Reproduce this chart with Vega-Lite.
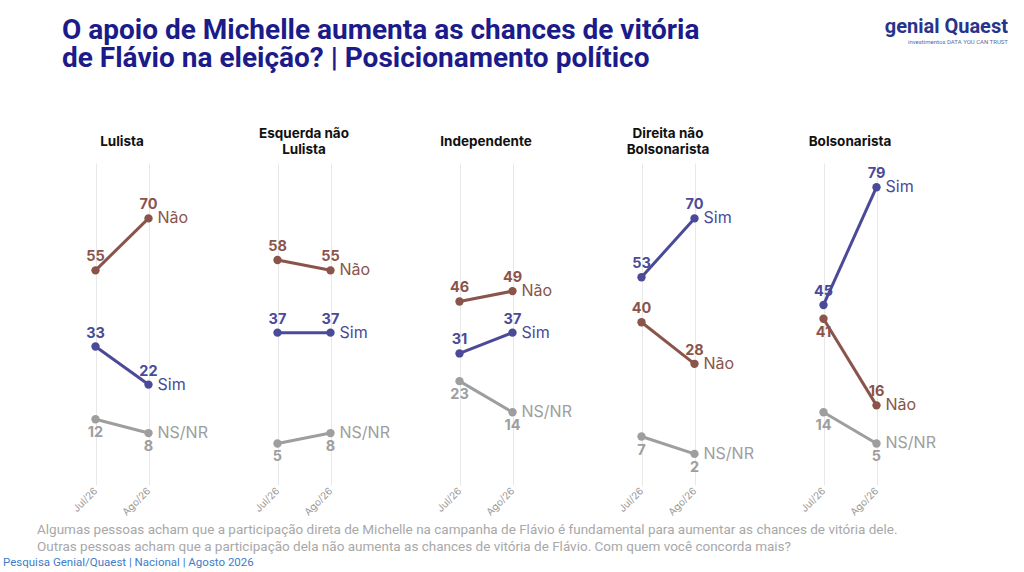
{
  "$schema": "https://vega.github.io/schema/vega-lite/v6.json",
  "background": "white",
  "padding": {"left": 3, "top": 16, "right": 2, "bottom": 2},
  "title": {
    "text": ["O apoio de Michelle aumenta as chances de vitória", "de Flávio na eleição? | Posicionamento político"],
    "anchor": "start",
    "frame": "bounds",
    "font": "Roboto",
    "fontSize": 28,
    "fontWeight": "bold",
    "color": "#1b1b8a",
    "lineHeight": 28,
    "offset": -56,
    "dx": 59
  },
  "config": {
    "view": {"stroke": null},
    "font": "Inter"
  },
  "vconcat": [
    {
      "title": {
        "text": "Pesquisa Genial/Quaest | Nacional | Agosto 2026",
        "orient": "bottom",
        "anchor": "start",
        "frame": "bounds",
        "font": "Roboto",
        "fontSize": 11.5,
        "fontWeight": "normal",
        "color": "#3d7cc9",
        "offset": 3,
        "dx": -34
      },
      "vconcat": [
        {
          "title": {
            "text": "genial  Quaest",
            "subtitle": "investimentos    DATA YOU CAN TRUST",
            "orient": "top",
            "anchor": "end",
            "frame": "bounds",
            "font": "Roboto",
            "fontSize": 20,
            "fontWeight": "bold",
            "color": "#27348b",
            "subtitleFont": "Roboto",
            "subtitleFontSize": 6,
            "subtitleColor": "#5a6aa8",
            "subtitlePadding": 2,
            "offset": 82,
            "dx": 72
          },
          "vconcat": [
            {
              "title": {
                "text": ["Algumas pessoas acham que a participação direta de Michelle na campanha de Flávio é fundamental para aumentar as chances de vitória dele.", "Outras pessoas acham que a participação dela não aumenta as chances de vitória de Flávio. Com quem você concorda mais?"],
                "orient": "bottom",
                "anchor": "start",
                "frame": "bounds",
                "font": "Roboto",
                "fontSize": 13.5,
                "fontWeight": "normal",
                "color": "#a8a8a8",
                "lineHeight": 17,
                "offset": 6,
                "dx": -32
              },
              "data": {
                "values": [
                  {"grupo": "Lulista", "serie": "Não", "periodo": "Jul/26", "valor": 55},
                  {"grupo": "Lulista", "serie": "Não", "periodo": "Ago/26", "valor": 70},
                  {"grupo": "Lulista", "serie": "Sim", "periodo": "Jul/26", "valor": 33},
                  {"grupo": "Lulista", "serie": "Sim", "periodo": "Ago/26", "valor": 22},
                  {"grupo": "Lulista", "serie": "NS/NR", "periodo": "Jul/26", "valor": 12},
                  {"grupo": "Lulista", "serie": "NS/NR", "periodo": "Ago/26", "valor": 8},
                  {"grupo": "Esquerda não Lulista", "serie": "Não", "periodo": "Jul/26", "valor": 58},
                  {"grupo": "Esquerda não Lulista", "serie": "Não", "periodo": "Ago/26", "valor": 55},
                  {"grupo": "Esquerda não Lulista", "serie": "Sim", "periodo": "Jul/26", "valor": 37},
                  {"grupo": "Esquerda não Lulista", "serie": "Sim", "periodo": "Ago/26", "valor": 37},
                  {"grupo": "Esquerda não Lulista", "serie": "NS/NR", "periodo": "Jul/26", "valor": 5},
                  {"grupo": "Esquerda não Lulista", "serie": "NS/NR", "periodo": "Ago/26", "valor": 8},
                  {"grupo": "Independente", "serie": "Não", "periodo": "Jul/26", "valor": 46},
                  {"grupo": "Independente", "serie": "Não", "periodo": "Ago/26", "valor": 49},
                  {"grupo": "Independente", "serie": "Sim", "periodo": "Jul/26", "valor": 31},
                  {"grupo": "Independente", "serie": "Sim", "periodo": "Ago/26", "valor": 37},
                  {"grupo": "Independente", "serie": "NS/NR", "periodo": "Jul/26", "valor": 23},
                  {"grupo": "Independente", "serie": "NS/NR", "periodo": "Ago/26", "valor": 14},
                  {"grupo": "Direita não Bolsonarista", "serie": "Sim", "periodo": "Jul/26", "valor": 53},
                  {"grupo": "Direita não Bolsonarista", "serie": "Sim", "periodo": "Ago/26", "valor": 70},
                  {"grupo": "Direita não Bolsonarista", "serie": "Não", "periodo": "Jul/26", "valor": 40},
                  {"grupo": "Direita não Bolsonarista", "serie": "Não", "periodo": "Ago/26", "valor": 28},
                  {"grupo": "Direita não Bolsonarista", "serie": "NS/NR", "periodo": "Jul/26", "valor": 7},
                  {"grupo": "Direita não Bolsonarista", "serie": "NS/NR", "periodo": "Ago/26", "valor": 2},
                  {"grupo": "Bolsonarista", "serie": "Sim", "periodo": "Jul/26", "valor": 45},
                  {"grupo": "Bolsonarista", "serie": "Sim", "periodo": "Ago/26", "valor": 79},
                  {"grupo": "Bolsonarista", "serie": "Não", "periodo": "Jul/26", "valor": 41},
                  {"grupo": "Bolsonarista", "serie": "Não", "periodo": "Ago/26", "valor": 16},
                  {"grupo": "Bolsonarista", "serie": "NS/NR", "periodo": "Jul/26", "valor": 14},
                  {"grupo": "Bolsonarista", "serie": "NS/NR", "periodo": "Ago/26", "valor": 5}
                ]
              },
              "spacing": 76,
              "bounds": "flush",
              "facet": {
                "column": {
                  "field": "grupo",
                  "type": "nominal",
                  "sort": ["Lulista", "Esquerda não Lulista", "Independente", "Direita não Bolsonarista", "Bolsonarista"],
                  "title": null,
                  "header": {
                    "labelFont": "Inter",
                    "labelFontSize": 13.5,
                    "labelFontWeight": "bold",
                    "labelColor": "#111111",
                    "labelBaseline": "middle",
                    "labelLineHeight": 8,
                    "labelPadding": 0,
                    "labelExpr": "datum.value == 'Esquerda não Lulista' ? ['Esquerda não', '\u200b', 'Lulista'] : datum.value == 'Direita não Bolsonarista' ? ['Direita não', '\u200b', 'Bolsonarista'] : ['\u200b', datum.value, '\u200b']"
                  }
                }
              },
              "spec": {
                "width": 106,
                "height": 322,
                "encoding": {
                  "x": {
                    "field": "periodo",
                    "type": "ordinal",
                    "sort": ["Jul/26", "Ago/26"],
                    "scale": {"type": "point", "padding": 0.5},
                    "axis": {
                      "title": null,
                      "labelAngle": -45,
                      "labelAlign": "right",
                      "labelBaseline": "middle",
                      "labelFont": "Inter",
                      "labelFontSize": 10,
                      "labelColor": "#9a9a9a",
                      "labelPadding": 4,
                      "ticks": false,
                      "domain": false,
                      "grid": true,
                      "gridColor": "#e8e8e8",
                      "gridWidth": 1
                    }
                  },
                  "y": {
                    "field": "valor",
                    "type": "quantitative",
                    "scale": {"domain": [-7, 86], "nice": false, "zero": false},
                    "axis": null
                  },
                  "color": {
                    "field": "serie",
                    "type": "nominal",
                    "scale": {"domain": ["Não", "Sim", "NS/NR"], "range": ["#8a544b", "#4b4a98", "#9e9e9e"]},
                    "legend": null
                  }
                },
                "layer": [
                  {"mark": {"type": "line", "strokeWidth": 3}, "encoding": {"detail": {"field": "serie"}}},
                  {"mark": {"type": "point", "filled": true, "size": 70, "opacity": 1}},
                  {
                    "transform": [{"filter": "!(datum.serie == 'NS/NR' || (datum.grupo == 'Bolsonarista' && datum.serie == 'Não' && datum.periodo == 'Jul/26'))"}],
                    "mark": {"type": "text", "baseline": "alphabetic", "dy": -9, "fontSize": 14.5, "fontWeight": "bold", "font": "Inter"},
                    "encoding": {"text": {"field": "valor", "type": "quantitative"}}
                  },
                  {
                    "transform": [{"filter": "datum.serie == 'NS/NR' || (datum.grupo == 'Bolsonarista' && datum.serie == 'Não' && datum.periodo == 'Jul/26')"}],
                    "mark": {"type": "text", "baseline": "top", "dy": 7, "fontSize": 14.5, "fontWeight": "bold", "font": "Inter"},
                    "encoding": {"text": {"field": "valor", "type": "quantitative"}}
                  },
                  {
                    "transform": [{"filter": "datum.periodo == 'Ago/26'"}],
                    "mark": {"type": "text", "align": "left", "baseline": "middle", "dx": 9, "fontSize": 16, "font": "Inter"},
                    "encoding": {"text": {"field": "serie", "type": "nominal"}}
                  }
                ]
              }
            }
          ]
        }
      ]
    }
  ]
}
